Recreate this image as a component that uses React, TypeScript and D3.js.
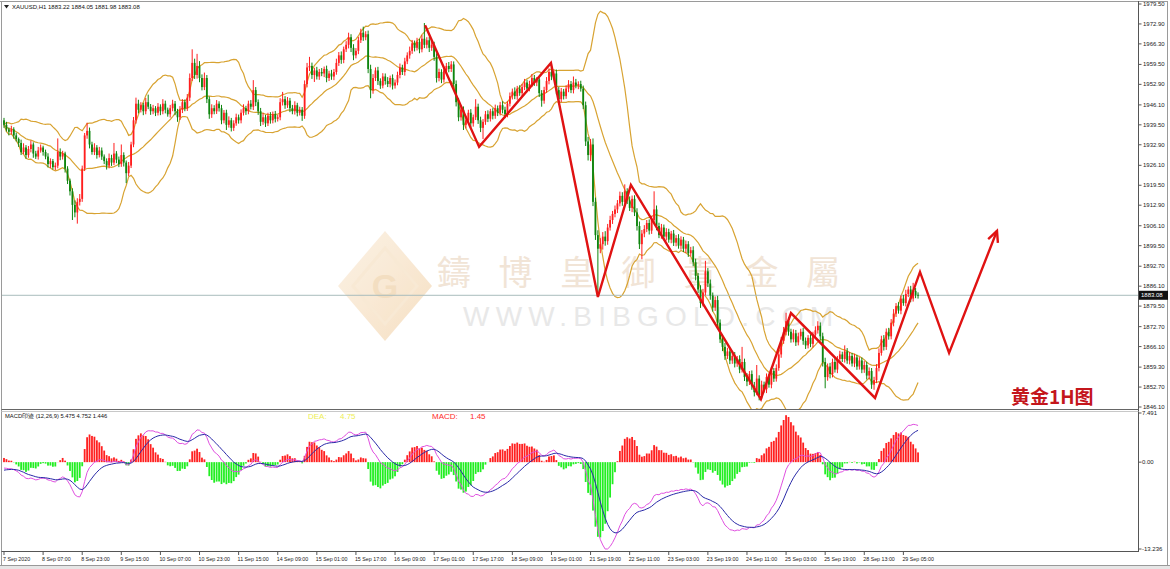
import React from "react";
import * as d3 from "d3";

// ---------- DATA ----------
const symbolHeader = "XAUUSD,H1  1883.22 1884.05 1881.98 1883.08";
const firstOpen = 1941.0;

const closes = [
  1939.5,1938.0,1937.2,1938.0,1936.0,1934.8,1933.5,1930.5,1932.0,1929.5,1931.5,1933.0,1930.0,1929.0,1931.0,1932.0,1930.5,1929.0,1926.5,1927.5,1925.5,1926.0,1930.5,1929.0,1930.0,
  1925.0,1921.0,1917.5,1913.0,1910.5,1914.0,1915.0,1925.0,1936.0,1937.5,1933.0,1930.5,1932.0,1929.5,1931.0,1929.0,1927.5,1926.0,1928.5,1927.0,1930.0,1928.0,1926.5,1929.5,1927.0,
  1923.5,1926.0,1933.0,1941.0,1946.5,1944.5,1946.0,1944.0,1947.0,1945.5,1944.0,1945.0,1943.5,1945.5,1944.0,1946.5,1944.5,1943.0,1945.0,1946.5,1944.0,1942.0,1944.5,1947.0,1945.0,
  1948.5,1955.0,1960.0,1956.0,1959.0,1955.0,1952.0,1955.0,1948.0,1943.0,1945.0,1944.0,1946.5,1945.0,1941.0,1943.5,1939.5,1941.0,1938.5,1940.0,1942.0,1941.0,1943.5,1945.0,1944.0,
  1946.5,1945.5,1951.0,1947.0,1944.0,1940.5,1942.0,1940.0,1942.5,1941.0,1943.0,1941.5,1942.0,1947.0,1948.0,1946.0,1947.5,1945.0,1944.0,1946.0,1943.5,1944.5,1942.5,1953.0,1958.5,
  1959.0,1956.0,1957.5,1955.5,1957.0,1956.5,1958.0,1955.0,1956.5,1955.5,1957.0,1960.0,1962.5,1961.0,1964.5,1966.0,1968.5,1965.0,1962.5,1964.0,1967.5,1970.0,1968.5,1969.5,1958.0,
  1951.0,1955.0,1957.5,1954.0,1952.5,1955.5,1954.0,1953.0,1955.0,1952.5,1953.5,1956.0,1958.5,1957.0,1960.5,1962.5,1964.0,1966.5,1965.0,1967.0,1964.5,1968.0,1966.0,1967.5,1965.0,
  1966.0,1962.0,1955.0,1957.0,1954.5,1957.5,1959.0,1958.0,1959.5,1953.0,1947.0,1942.0,1944.5,1939.5,1941.0,1943.5,1940.0,1942.0,1945.5,1941.0,1938.5,1940.5,1943.0,1941.5,1944.0,
  1942.5,1945.0,1943.5,1946.0,1944.5,1943.0,1946.5,1949.0,1950.5,1949.0,1951.5,1950.0,1952.0,1953.5,1951.5,1953.0,1955.0,1953.5,1954.5,1950.0,1947.5,1951.0,1954.0,1957.0,1955.5,
  1956.5,1951.0,1948.0,1950.5,1949.0,1951.5,1953.0,1951.0,1953.5,1952.5,1953.0,1951.5,1946.0,1934.0,1929.5,1933.0,1914.0,1903.0,1898.5,1900.0,1902.5,1901.0,1905.5,1908.0,1910.0,
  1911.5,1913.5,1916.0,1914.0,1917.5,1914.5,1912.0,1915.0,1910.5,1906.0,1900.0,1903.5,1905.0,1907.0,1904.5,1908.0,1911.5,1906.0,1903.0,1905.5,1902.5,1904.0,1901.5,1903.5,1900.5,
  1902.0,1899.5,1901.5,1898.5,1900.0,1897.0,1898.0,1894.0,1889.5,1885.0,1880.5,1884.0,1891.0,1887.0,1883.0,1879.0,1881.5,1874.0,1868.5,1866.0,1863.0,1864.5,1861.5,1863.0,1860.5,
  1862.0,1858.5,1861.0,1856.0,1854.5,1857.0,1853.0,1851.0,1855.5,1850.0,1853.5,1852.0,1856.0,1853.5,1858.0,1855.5,1859.0,1863.5,1868.0,1871.0,1874.5,1871.0,1868.5,1870.5,1867.5,
  1869.5,1871.0,1868.0,1866.5,1869.0,1867.0,1870.0,1871.5,1873.0,1869.5,1861.0,1856.0,1859.5,1857.0,1861.0,1858.5,1862.0,1863.5,1862.0,1864.5,1861.5,1863.0,1860.5,1862.5,1859.5,
  1861.5,1858.5,1860.0,1856.5,1858.0,1853.5,1855.0,1859.0,1864.0,1868.5,1866.0,1871.0,1869.5,1874.0,1877.0,1879.5,1878.0,1882.0,1880.5,1883.5,1885.0,1882.0,1884.5,1883.22,1883.08,
];

const upWicks = [
  0.8,1.0,0.6,1.2,0.7,0.9,0.5,1.1,1.4,0.8,1.0,1.3,0.7,0.9,1.2,1.0,0.6,0.8,1.1,0.9,0.7,1.0,4.5,1.2,0.9,
  0.6,0.8,0.7,1.0,1.5,1.2,1.6,1.0,0.8,2.7,1.1,0.9,1.4,0.8,1.2,1.0,0.7,0.9,1.5,1.1,3.5,0.8,1.0,3.5,0.9,
  0.7,1.2,0.9,1.1,2.0,1.3,1.0,0.8,1.4,2.5,0.9,1.1,0.7,1.2,0.8,1.5,1.0,0.7,1.1,1.3,0.9,0.8,1.2,1.0,0.9,
  1.2,1.5,4.5,1.4,4.0,1.6,1.2,1.8,1.0,0.9,1.3,1.0,1.2,0.8,1.1,0.9,1.0,1.3,0.8,1.0,1.2,0.9,1.1,1.3,0.8,
  1.0,1.2,3.3,1.0,0.9,1.1,1.4,0.8,1.0,1.2,0.9,1.1,0.8,1.3,2.4,1.0,1.2,0.9,1.1,1.3,0.8,1.0,0.9,1.2,1.5,
  3.0,1.1,0.9,1.2,1.0,1.3,0.8,1.1,0.9,1.2,1.0,1.4,1.1,1.3,0.9,1.2,1.5,1.0,1.2,0.9,1.1,1.3,2.0,1.0,1.2,
  1.4,1.3,1.0,1.2,0.9,1.1,1.0,1.3,0.8,1.2,1.0,1.1,1.3,0.9,1.2,1.0,1.4,1.1,0.9,1.3,1.0,1.2,5.2,1.0,1.1,
  1.3,1.0,1.2,1.1,0.9,1.2,1.0,1.3,1.1,1.0,1.2,1.4,0.9,1.1,1.3,1.0,1.2,0.9,2.5,1.0,1.2,0.9,1.1,1.3,0.8,
  1.0,1.2,0.9,1.1,1.3,1.0,0.8,1.2,1.0,1.4,0.9,1.1,1.0,1.2,0.9,1.1,1.3,1.0,0.8,1.2,1.0,1.1,1.3,1.2,2.0,
  1.1,1.3,1.0,1.2,0.9,1.1,1.3,1.0,2.0,1.2,0.9,1.1,1.0,1.2,1.5,1.8,2.0,1.4,1.6,2.0,1.5,1.8,1.2,1.4,1.0,
  1.3,1.1,1.4,1.2,2.3,1.0,1.3,1.1,1.2,1.4,1.5,1.2,1.3,1.0,1.2,1.4,6.0,1.3,1.1,1.2,1.0,1.3,1.1,0.9,1.2,
  1.0,1.3,1.1,0.9,1.2,1.0,1.1,1.3,1.2,1.0,1.4,1.2,3.5,1.1,1.3,1.0,1.2,1.4,1.1,1.0,1.3,1.2,1.0,1.1,1.3,
  1.0,1.2,5.0,1.1,1.3,1.0,1.2,1.4,4.5,1.1,1.3,1.0,1.2,1.1,1.4,1.0,1.2,1.5,1.3,1.6,2.8,1.2,1.0,1.3,1.1,
  1.2,1.0,1.3,1.1,0.9,1.2,1.0,1.3,1.5,1.1,1.2,1.4,1.0,1.2,1.1,1.3,1.0,1.2,0.9,2.0,1.1,1.3,1.0,1.2,0.9,
  1.1,1.0,1.3,1.1,1.2,1.0,1.1,1.3,1.5,1.2,1.4,1.1,1.3,1.2,1.5,1.0,1.3,1.1,1.2,1.4,1.0,1.2,2.7,1.0,0.83,
];

const downWicks = [
  1.0,0.7,1.2,0.9,1.1,0.8,1.3,1.0,0.7,1.2,0.9,1.1,1.4,0.8,1.0,0.7,1.2,0.9,1.1,1.3,0.8,1.0,0.9,1.2,1.0,
  1.3,1.1,1.4,5.0,1.6,3.7,1.2,1.0,0.8,1.1,1.3,0.9,1.0,1.2,0.8,1.1,1.0,1.3,0.9,1.1,0.8,1.2,1.0,0.9,1.3,
  3.3,1.0,0.8,0.9,1.1,1.2,0.9,1.3,1.0,0.8,1.2,1.0,1.1,0.9,1.3,1.0,1.2,0.8,1.1,1.0,1.3,1.5,0.9,1.1,1.0,
  0.9,1.1,1.0,1.3,1.2,1.4,1.1,1.0,1.3,1.5,1.2,1.0,0.9,1.1,1.3,1.0,1.7,0.9,1.2,1.0,0.8,1.1,1.0,0.9,1.2,
  1.0,0.9,1.1,1.3,1.2,1.4,1.0,1.2,0.9,1.1,1.0,1.2,0.9,1.0,1.1,1.2,0.9,1.3,1.0,1.1,1.2,0.9,1.7,1.0,1.1,
  1.2,1.3,2.3,1.0,1.1,0.9,1.2,1.4,1.0,1.1,1.2,0.9,1.0,1.3,1.1,0.9,1.2,1.4,1.6,1.0,1.1,0.9,1.2,1.0,1.4,
  2.7,1.2,1.0,1.3,1.1,0.9,1.2,1.0,1.1,1.3,1.0,0.9,1.1,1.0,1.2,0.9,1.1,1.0,1.2,0.9,1.3,1.0,1.1,1.2,1.4,
  1.0,1.3,1.5,1.1,1.2,1.0,0.9,1.1,1.0,1.2,1.4,1.3,1.1,1.7,1.2,1.0,1.3,1.1,0.9,1.2,1.4,3.7,1.0,1.1,0.9,
  1.2,1.0,1.1,0.9,1.2,1.3,1.0,0.9,1.1,1.0,1.2,0.9,1.1,1.0,1.2,0.9,1.0,1.1,1.2,1.3,2.0,1.0,0.9,1.1,1.2,
  1.0,1.4,1.2,1.0,1.1,0.9,1.2,1.0,1.1,0.9,1.2,1.0,1.3,1.5,1.8,2.0,1.4,1.6,16.0,1.5,1.8,1.5,1.2,1.0,1.3,
  1.1,1.2,1.0,1.3,1.1,1.2,1.0,1.4,1.2,1.5,1.6,5.0,1.2,1.0,1.3,1.1,1.2,1.4,1.0,1.2,1.1,1.3,1.0,1.2,1.1,
  1.2,1.0,1.3,1.1,1.4,1.2,1.0,1.3,1.5,1.2,1.6,1.1,1.0,1.2,1.4,1.3,1.1,1.5,1.2,1.4,1.3,1.0,1.2,1.1,1.3,
  1.1,1.2,1.0,1.3,1.5,1.1,1.2,1.4,1.0,1.7,1.2,1.1,1.3,1.0,1.2,1.1,1.0,0.9,1.1,1.0,1.2,1.3,1.1,1.0,1.2,
  1.0,1.1,1.3,1.2,1.0,1.1,1.2,1.0,1.1,1.3,1.5,3.7,1.2,1.4,1.1,1.0,1.2,1.1,1.0,1.2,1.1,1.3,1.0,1.2,1.1,
  1.0,1.2,1.1,1.3,1.2,1.4,1.7,1.0,1.1,0.9,1.2,1.0,1.1,1.0,1.2,1.1,1.0,1.2,0.9,1.1,1.0,1.2,1.0,1.1,1.1,
];

const priceTicks = ["1979.50","1972.90","1966.30","1959.50","1952.90","1946.10","1939.50","1932.90","1926.10","1919.50","1912.90","1906.10","1899.50","1892.70","1886.10","1879.50","1872.70","1866.10","1859.30","1852.70","1846.10"];
const macdTicks = ["7.491","0.00","-13.236"];
const timeLabels = ["7 Sep 2020","8 Sep 07:00","8 Sep 23:00","9 Sep 15:00","10 Sep 07:00","10 Sep 23:00","11 Sep 15:00","14 Sep 09:00","15 Sep 01:00","15 Sep 17:00","16 Sep 09:00","17 Sep 01:00","17 Sep 17:00","18 Sep 09:00","19 Sep 01:00","21 Sep 19:00","22 Sep 11:00","23 Sep 03:00","23 Sep 19:00","24 Sep 11:00","25 Sep 03:00","25 Sep 19:00","28 Sep 13:00","29 Sep 05:00"];
const barsPerLabel = 16;
const currentPrice = 1883.08;

// hand-drawn zigzag annotation (bar index, price)
const zigIdx = [172.3, 194.4, 223.8, 243.0, 256.5, 309.7, 322.0, 356.4, 374.8, 386.7, 406.3];
const zigPrice = [1972.5, 1932.2, 1960.0, 1882.5, 1919.6, 1848.7, 1877.2, 1849.1, 1890.8, 1864.0, 1904.4];

// MACD seeds before first visible bar
const macdSeed = { ema12: 1939.2, ema26: 1940.2, dea: -1.3 };
const macdHeader = "MACD印迹 (12,26,9) 5.475 4.752 1.446";
const deaLabel = ["DEA:", "4.75"];
const macdLabel = ["MACD:", "1.45"];
const watermarkCn = "鑄博皇御貴金屬";
const watermarkEn = "WWW.BIBGOLD.COM";
const titleText = "黄金1H图";

export default function App() {
  const W = 1170, H = 569;
  const axisX = 1138.5;
  const x = d3.scaleLinear().domain([0, 464]).range([4, 1138]);
  const yMin = +priceTicks[priceTicks.length - 1], yMax = +priceTicks[0];
  const y = d3.scaleLinear().domain([yMin, yMax]).range([407, 4]);
  const ym = d3.scaleLinear().domain([+macdTicks[2], +macdTicks[0]]).range([549, 413]);

  const bars = closes.map((c, i) => {
    const o = i === 0 ? firstOpen : closes[i - 1];
    const hi = Math.max(o, c) + (upWicks[i] ?? 1);
    const lo = Math.min(o, c) - (downWicks[i] ?? 1);
    return { i, o, c, hi, lo };
  });

  // Bollinger (20, 2)
  const bb = closes.map((_, i) => {
    const w = closes.slice(Math.max(0, i - 19), i + 1);
    const m = d3.mean(w) as number;
    const sd = Math.sqrt(d3.mean(w, (v) => (v - m) ** 2) as number);
    return { m, u: m + 2 * sd, l: m - 2 * sd };
  });

  // MACD (12,26,9)
  const k12 = 2 / 13, k26 = 2 / 27, k9 = 2 / 10;
  let e12 = macdSeed.ema12, e26 = macdSeed.ema26, dea = macdSeed.dea;
  const macd = closes.map((c) => {
    e12 = c * k12 + e12 * (1 - k12);
    e26 = c * k26 + e26 * (1 - k26);
    const dif = e12 - e26;
    dea = dif * k9 + dea * (1 - k9);
    return { dif, dea, hist: 2 * (dif - dea) };
  });

  const bbLine = (key: "u" | "m" | "l") =>
    d3.line<{ m: number; u: number; l: number }>().x((_, i) => x(i)).y((d) => y(d[key]))(bb) || "";
  const difLine = d3.line<any>().x((_, i) => x(i)).y((d) => ym(d.dif))(macd) || "";
  const deaLine = d3.line<any>().x((_, i) => x(i)).y((d) => ym(d.dea))(macd) || "";

  const zig = zigIdx.map((v, k) => [x(v), y(zigPrice[k])] as [number, number]);
  const zigPath = d3.line()(zig) || "";
  const tip = zig[zig.length - 1], prev = zig[zig.length - 2];
  const ang = Math.atan2(prev[1] - tip[1], prev[0] - tip[0]);
  const aLen = 12, aSpread = 0.45;
  const arrowPath = `M${tip[0] + aLen * Math.cos(ang - aSpread)},${tip[1] + aLen * Math.sin(ang - aSpread)} L${tip[0]},${tip[1]} L${tip[0] + aLen * Math.cos(ang + aSpread)},${tip[1] + aLen * Math.sin(ang + aSpread)}`;

  const bull = "#ff1e1e", bear = "#0e850e";
  const font = "'Liberation Sans', Arial, sans-serif";

  return (
    <svg width={W} height={H} viewBox={`0 0 ${W} ${H}`} style={{ display: "block", position: "absolute", left: 0, top: 0, background: "#fff" }}>
      <defs>
        <clipPath id="mainClip"><rect x={2} y={2} width={1136} height={407} /></clipPath>
        <clipPath id="macdClip"><rect x={2} y={411} width={1136} height={140} /></clipPath>
        <linearGradient id="logoGrad" x1="0" y1="0" x2="1" y2="1">
          <stop offset="0" stopColor="#fbeedd" />
          <stop offset="1" stopColor="#f3d6b0" />
        </linearGradient>
      </defs>
      <rect x={0} y={0} width={W} height={H} fill="#fff" />

      {/* watermark */}
      <g opacity={0.75}>
        <polygon points="385,231 432,286 385,341 338,286" fill="url(#logoGrad)" />
        <polygon points="385,248 417,286 385,324 353,286" fill="none" stroke="#f6e2c6" strokeWidth={3} />
        <text x={385} y={298} textAnchor="middle" fontSize={34} fontWeight="bold" fontFamily={font} fill="#efd3ad">G</text>
      </g>
      <text x={437} y={285} fontSize={34} fontFamily="'Noto Sans CJK TC', 'Noto Sans CJK SC', sans-serif" fill="#f1e4d6" letterSpacing={27.5}>{watermarkCn}</text>
      <text x={463} y={326} fontSize={28} fontFamily={font} fill="#e8e8e8" textLength={370} lengthAdjust="spacing">{watermarkEn}</text>

      {/* Bollinger bands */}
      <g clipPath="url(#mainClip)" fill="none" stroke="#d8a332" strokeWidth={1.2}>
        <path d={bbLine("u")} />
        <path d={bbLine("m")} />
        <path d={bbLine("l")} />
      </g>

      {/* current price line */}
      <line x1={2} x2={axisX} y1={y(currentPrice)} y2={y(currentPrice)} stroke="#a9bcbc" strokeWidth={1} />

      {/* candles */}
      <g clipPath="url(#mainClip)">
        {bars.map((b) => {
          const col = b.c >= b.o ? bull : bear;
          const top = y(Math.max(b.o, b.c)), bot = y(Math.min(b.o, b.c));
          const cx = x(b.i);
          return (
            <g key={b.i}>
              <line x1={cx} x2={cx} y1={y(b.hi)} y2={y(b.lo)} stroke={col} strokeWidth={1} />
              <rect x={cx - 0.9} y={top} width={1.8} height={Math.max(0.8, bot - top)} fill={col} />
            </g>
          );
        })}
      </g>

      {/* zigzag annotation */}
      <path d={zigPath} fill="none" stroke="#e01212" strokeWidth={2.4} strokeLinejoin="miter" />
      <path d={arrowPath} fill="none" stroke="#e01212" strokeWidth={2.4} />

      <text x={1011} y={404} fontSize={19} fontWeight="bold" fontFamily="'Noto Sans CJK SC', sans-serif" fill="#c4161c">{titleText}</text>

      {/* header */}
      <path d="M4,5 L9,5 L6.5,8.5 Z" fill="#222" />
      <text x={12} y={9} fontSize={6} fontFamily={font} fill="#111">{symbolHeader}</text>

      {/* MACD panel */}
      <g clipPath="url(#macdClip)">
        {macd.map((m, i) => (
          <rect key={i} x={x(i) - 0.9} width={1.8}
            y={Math.min(ym(0), ym(m.hist))} height={Math.abs(ym(m.hist) - ym(0))}
            fill={m.hist >= 0 ? "#ff2020" : "#22ee22"} />
        ))}
        <path d={difLine} fill="none" stroke="#e050e0" strokeWidth={1} />
        <path d={deaLine} fill="none" stroke="#2a2aa8" strokeWidth={1} />
      </g>
      <text x={5} y={418} fontSize={5.8} fontFamily={font} fill="#111">{macdHeader}</text>
      <text x={308} y={419} fontSize={8} fontFamily={font} fill="#eeee55">{deaLabel[0]}</text>
      <text x={340} y={419} fontSize={8} fontFamily={font} fill="#eeee55">{deaLabel[1]}</text>
      <text x={432} y={419} fontSize={8} fontFamily={font} fill="#ff2a2a">{macdLabel[0]}</text>
      <text x={470} y={419} fontSize={8} fontFamily={font} fill="#ff2a2a">{macdLabel[1]}</text>

      {/* frames */}
      <line x1={0} x2={1168} y1={1.5} y2={1.5} stroke="#9a9a9a" />
      <line x1={1.5} x2={1.5} y1={1} y2={565} stroke="#9a9a9a" />
      <line x1={axisX} x2={axisX} y1={1} y2={552} stroke="#555" />
      <line x1={1167.5} x2={1167.5} y1={1} y2={565} stroke="#9a9a9a" />
      <line x1={1.5} x2={axisX} y1={409.5} y2={409.5} stroke="#666" />
      <line x1={1.5} x2={axisX} y1={411.5} y2={411.5} stroke="#c8c8c8" />
      <line x1={1.5} x2={axisX} y1={551.5} y2={551.5} stroke="#555" />
      <rect x={0} y={565} width={W} height={4} fill="#e6e6e6" />
      <line x1={0} x2={W} y1={565.5} y2={565.5} stroke="#999" />

      {/* price axis */}
      {priceTicks.map((t) => (
        <g key={t}>
          <line x1={axisX} x2={axisX + 3} y1={y(+t)} y2={y(+t)} stroke="#555" />
          <text x={1143} y={y(+t) + 2} fontSize={6} fontFamily={font} fill="#222">{t}</text>
        </g>
      ))}
      <rect x={1139} y={y(currentPrice) - 4.5} width={29} height={9} fill="#111" />
      <text x={1141} y={y(currentPrice) + 2.2} fontSize={6} fontFamily={font} fill="#fff">{currentPrice.toFixed(2)}</text>

      {/* macd axis */}
      {macdTicks.map((t) => (
        <g key={t}>
          <line x1={axisX} x2={axisX + 3} y1={ym(+t)} y2={ym(+t)} stroke="#555" />
          <text x={1142} y={ym(+t) + 2} fontSize={6} fontFamily={font} fill="#222">{t}</text>
        </g>
      ))}

      {/* time axis */}
      {timeLabels.map((t, k) => {
        const px = x(k * barsPerLabel);
        return (
          <g key={t}>
            <line x1={px} x2={px} y1={551.5} y2={555} stroke="#555" />
            <text x={px - 1} y={561} fontSize={5.3} fontFamily={font} fill="#222">{t}</text>
          </g>
        );
      })}
    </svg>
  );
}
